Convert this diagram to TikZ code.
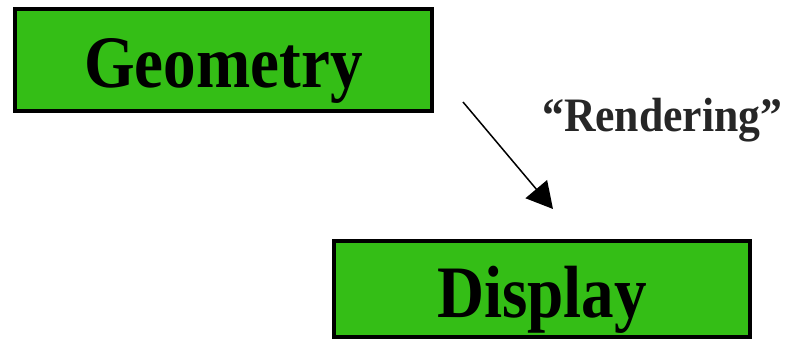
\documentclass[tikz,border=0pt]{standalone}
\usepackage{fontspec}
\setmainfont{Liberation Serif}
\usetikzlibrary{arrows.meta}
\definecolor{boxgreen}{RGB}{52,190,22}
\begin{document}
\begin{tikzpicture}[x=1pt, y=-1pt,
  stagebox/.style={draw=black, line width=4pt, fill=boxgreen, inner sep=0pt,
    minimum height=100pt, text height=56pt, text depth=0pt,
    font=\fontsize{74}{74}\selectfont\bfseries},
  flowarrow/.style={line width=1.5pt, -{Triangle[length=26pt,width=28pt]}}]
\useasboundingbox (0,0) rectangle (785,339);

\node[stagebox, minimum width=417pt, minimum height=102pt] (geometry) at (223.5,60) {\scalebox{0.88}[1]{Geometry}};
\node[stagebox, minimum width=416pt, minimum height=96pt] (display) at (542,289) {\scalebox{0.88}[1]{Display}};

\coordinate (from) at (463,102);
\coordinate (to) at (553,209);
\draw[flowarrow] (from) -- (to);

\node[anchor=base west, inner sep=0pt, text=black!85, font=\fontsize{48}{48}\selectfont\bfseries] (rendering) at (542,132) {\scalebox{0.91}[1]{“Rendering”}};
\end{tikzpicture}
\end{document}
